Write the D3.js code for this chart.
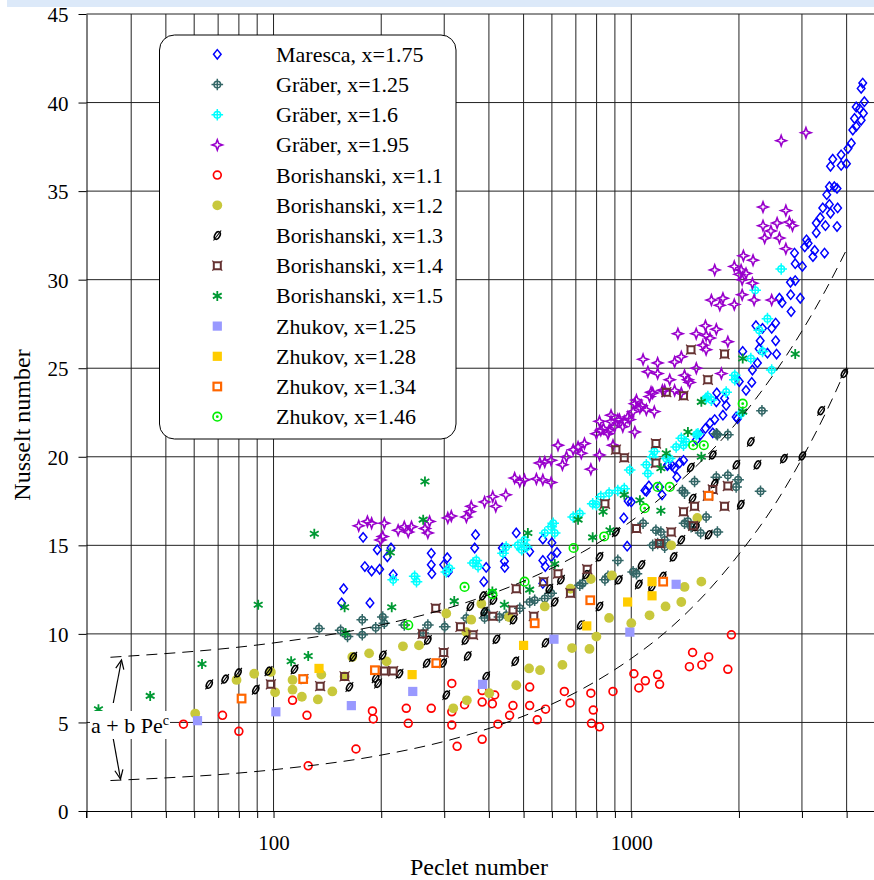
<!DOCTYPE html>
<html><head><meta charset="utf-8">
<script src="https://cdn.jsdelivr.net/npm/d3@7"></script>
<style>
html,body{margin:0;padding:0;background:#fff;}
svg{display:block;font-family:"Liberation Serif","Times New Roman",serif;}
</style></head>
<body><svg id="c" width="874" height="880"></svg>
<script>
// ---------- data (Pe, Nu) ----------
const maresca = [[178,15.45],[180,13.8],[188,13.55],[157,12.55],[155,11.75],[186,11.75],[195,14.75],[208,14.35],[213,14.85],[198,13.65],[216,13.35],[276,14.55],[306,14.3],[367,15.6],[477,15.7],[365,14.85],[276,13.9],[277,13.4],[299,13.9],[308,13.5],[393,13.75],[387,12.95],[442,14.1],[443,13.75],[436,14.85],[520,14.65],[566,15.35],[600,15.15],[566,14.15],[597,14.35],[620,14.6],[575,13.8],[566,12.85],[953,16.55],[974,14.95],[1092,18.1],[1219,17.85],[1262,19.5],[980,17.5],[1734,23.6],[1729,23.1],[1711,22.1],[1660,21.9],[1612,21.6],[1563,21.25],[1520,20.95],[1400,19.8],[1366,19.65],[1300,19.5],[1341,18.85],[1200,18.3],[1120,18.35],[1102,18.05],[1000,17.45],[1842,22.9],[1804,22.35],[1690,21.35],[1982,22.15],[1322,19.35],[1265,19.55],
[4437,41.1],[4392,40.8],[4484,40.05],[4254,39.75],[4345,39.65],[4456,39.4],[4208,39.1],[4392,39.0],[4162,38.45],[4254,38.65],[4034,37.4],[4122,37.7],[3861,37.05],[3658,36.8],[3605,36.4],[3996,36.55],[3861,36.45],[3580,35.25],[3695,35.25],[3760,35.15],[3520,34.8],[3580,34.25],[3430,34.05],[3605,33.75],[3775,34.05],[3375,33.5],[3290,33.2],[3490,33.05],[3760,33.0],[3290,32.65],[3090,32.25],[3122,32.05],[3055,31.85],[3256,31.65],[3220,31.3],[3470,31.5],[2860,31.5],[2873,30.9],[3008,30.75],[2786,29.85],[2873,29.95],[2595,28.95],[2640,28.7],[2790,29.15],[2968,28.95],[2798,28.2],[2231,27.4],[2328,27.25],[2469,27.25],[2533,27.55],[2293,26.55],[2533,26.55],[2278,26.1],[2403,25.85],[2548,25.8],[2049,25.95],[2253,25.3],[2181,24.9],[2004,24.25],[2172,24.2],[2093,23.75],[1823,23.3],[1964,22.25]];

const graber125 = [[134,10.3],[154,10.2],[161,9.85],[177,10.8],[177,9.95],[193,10.35],[202,10.95],[204,10.6],[232,10.5],[262,10.05],[270,10.5],[301,10.4],[346,10.9],[389,10.9],[394,11.2],[428,10.95],[447,11.05],[488,11.45],[520,11.8],[537,11.9],[573,12.0],[597,12.3],[718,12.75],[731,12.85],[844,13.05],[861,13.25],[917,14.15],[1012,13.5],[1034,13.4],[1079,16.25],[1148,15.0],[1185,15.1],[1240,14.9],[1172,15.85],[1210,15.75],[1729,21.3],[1503,18.6],[1409,17.95],[1729,18.85],[1619,16.6],[1440,16.35],[2319,22.6],[1862,21.25],[1741,21.25],[1390,18.1],[1862,18.95],[1989,18.7],[1964,18.3],[2298,18.05],[1409,16.25],[1470,16.05],[1563,15.7],[1741,15.75],[1240,15.3]];

const graber16 = [[216,13.05],[248,13.25],[251,12.95],[304,13.5],[310,13.7],[361,14.0],[369,14.15],[373,13.8],[438,14.55],[447,14.9],[482,15.0],[494,14.75],[503,15.3],[510,14.9],[573,15.7],[597,16.05],[611,15.7],[605,16.25],[688,16.6],[718,16.8],[780,17.35],[799,17.3],[822,17.75],[867,17.95],[917,18.1],[956,18.2],[990,19.25],[1102,19.55],[1113,19.05],[1148,20.0],[1160,20.3],[1253,19.9],[1637,23.4],[1675,23.2],[1520,21.25],[1423,20.85],[1400,20.65],[1335,20.55],[2625,30.6],[2220,29.4],[2403,27.8],[2278,27.15],[2328,25.95],[2159,25.55],[2469,24.9],[1947,24.6],[1947,24.35],[1842,23.65],[1619,23.3],[2028,22.45],[1536,21.3],[1380,21.05],[1281,19.9]];

const graber195 = [[173,16.1],[183,16.35],[188,16.25],[204,16.25],[202,15.5],[199,15.3],[223,15.85],[232,16.05],[238,15.75],[243,16.05],[265,15.95],[270,15.7],[273,16.35],[307,16.55],[314,16.65],[346,16.6],[354,16.9],[357,17.2],[389,17.45],[410,17.75],[418,17.2],[446,17.85],[472,18.8],[488,18.6],[503,18.7],[543,18.75],[566,18.7],[597,18.55],[555,19.65],[573,19.7],[597,19.8],[642,19.55],[624,20.65],[659,20.0],[688,20.4],[710,20.55],[725,20.2],[740,20.75],[771,19.3],[815,20.1],[799,21.3],[836,21.6],[815,22.0],[861,21.3],[878,22.0],[898,21.7],[917,22.1],[956,22.0],[978,22.25],[889,20.65],[1023,21.4],[1023,23.0],[1057,22.75],[1102,22.65],[1160,22.55],[1125,23.4],[1148,23.6],[1240,23.75],[1350,26.95],[1519,26.95],[1619,26.85],[1585,26.3],[1619,26.05],[1380,25.65],[1322,25.35],[1079,25.5],[1185,25.3],[1113,24.8],[1185,24.7],[1409,24.6],[1440,24.35],[1281,24.35],[1520,25.0],[1322,23.75],[1136,23.65],[1034,23.2],[1012,22.55],[878,22.35],[990,22.1],[927,22.1],[947,21.7],[867,21.5],[822,21.5],
[3078,38.3],[2625,37.85],[2335,34.1],[2705,33.9],[2557,33.2],[2767,33.25],[2823,33.05],[2335,33.05],[2457,32.75],[2360,32.35],[2595,32.35],[2705,31.75],[2058,31.35],[2190,31.1],[1941,30.75],[1711,30.55],[2028,30.55],[2006,30.3],[2093,30.35],[2042,30.0],[2181,29.8],[2042,29.15],[2205,28.85],[2469,28.85],[1675,28.85],[1804,28.95],[1768,28.55],[1941,28.6],[1612,27.4],[1729,27.2],[1660,26.7],[1862,26.5],[1786,24.7],[1456,24.2],[1222,23.75],[1380,23.6],[1068,22.9]];

const borish11 = [[56,4.9],[72,5.4],[80,4.5],[113,6.25],[124,5.4],[125,2.55],[170,3.5],[189,5.65],[190,5.2],[235,5.8],[238,4.95],[276,5.8],[315,7.2],[315,5.6],[315,4.85],[326,3.65],[342,6.0],[383,6.8],[383,6.15],[383,4.05],[409,6.05],[415,6.55],[424,4.9],[457,5.4],[467,5.95],[520,7.0],[520,5.95],[546,5.15],[576,5.75],[650,6.75],[675,6.1],[771,6.65],[783,5.7],[774,4.95],[815,4.75],[889,6.75],[1017,7.75],[1050,6.95],[1095,7.35],[1185,7.7],[1200,7.15],[1905,9.95],[1484,8.95],[1646,8.7],[1454,8.15],[1575,8.25],[1862,8.0]];

const borish12 = [[60.4,5.5],[78.8,7.4],[88.3,7.75],[98.3,7.85],[101,6.7],[113,7.4],[113,6.85],[120,6.45],[133,6.3],[136,7.7],[146,6.75],[158,7.6],[166,8.7],[185,8.9],[207,8.45],[230,9.3],[255,9.35],[304,11.15],[346,10.1],[357,10.8],[381,11.7],[318,5.8],[347,6.25],[401,6.65],[455,10.95],[477,7.1],[518,8.05],[556,7.95],[573,11.55],[642,8.25],[683,9.2],[676,12.55],[771,13.1],[764,9.15],[799,9.85],[867,10.9],[883,13.3],[1000,10.6],[1125,11.05],[1247,11.55],[1530,16.55],[1293,15.0],[1380,11.8],[1409,12.65],[1570,12.95]];

const borish13 = [[66.1,7.15],[73.2,7.45],[79.6,7.8],[89.2,6.85],[96.8,7.9],[114.5,8.0],[122,7.45],[163,7.0],[167,8.7],[193,7.5],[196,7.2],[202,8.8],[225,7.75],[268,8.35],[270,9.65],[298,8.35],[304,6.55],[344,9.65],[349,8.75],[355,11.55],[385,12.15],[388,11.25],[412,11.9],[420,9.7],[393,7.6],[469,10.8],[474,8.45],[576,9.5],[590,12.55],[611,11.8],[636,13.05],[722,10.5],[748,13.35],[815,11.55],[815,14.35],[906,15.75],[923,13.05],[1050,12.8],[1068,13.9],[1143,12.65],[1224,13.25],[1690,20.1],[1467,19.4],[1484,17.65],[1711,18.5],[3396,22.6],[2159,20.85],[1967,19.55],[2253,19.55],[2672,19.9],[3008,20.05],[2024,17.3],[1516,16.05],[1646,15.6],[1380,15.3],[1313,14.35],[3941,24.7]];

const borish14 = [[98.3,7.15],[135,7.05],[158,7.6],[204,7.9],[216,7.9],[284,11.45],[299,8.95],[261,10.0],[333,10.4],[361,9.95],[410,11.0],[467,11.35],[477,12.55],[534,11.0],[569,12.95],[624,13.4],[676,12.3],[753,13.65],[844,17.35],[906,20.4],[956,19.95],[1034,15.95],[1172,20.75],[1172,19.65],[1200,15.1],[1469,26.05],[1823,25.8],[1637,24.35],[1253,23.65],[1400,23.45],[1503,17.2],[1400,16.9],[1690,18.15],[1862,18.35],[1637,17.8],[1823,17.2],[1490,16.1],[1293,15.75]];

const borish15 = [[32.4,5.75],[45.2,6.5],[63.1,8.3],[90.6,11.65],[112,8.45],[125,8.75],[130,15.65],[158,11.5],[159,10.05],[265,18.6],[262,16.45],[212,14.6],[214,11.5],[320,11.85],[409,12.4],[442,11.65],[514,15.7],[520,12.5],[611,13.95],[710,16.45],[780,15.45],[834,16.9],[872,15.85],[956,17.85],[1057,17.55],[1210,19.35],[1210,16.95],[1253,20.2],[1570,23.1],[1440,21.4],[1570,20.0],[2049,22.55],[2873,25.8],[2049,25.55]];

const zhukov125 = [[61.3,5.1],[101.5,5.6],[165,5.95],[245,6.75],[384,7.15],[608,9.7],[991,10.1],[1335,12.8]];
const zhukov128 = [[134,8.05],[244,7.7],[500,9.35],[751,10.45],[977,11.8],[1143,12.95],[1143,12.15]];
const zhukov134 = [[81.4,6.35],[121,7.45],[192,7.95],[285,8.35],[537,10.6],[768,11.9],[1228,12.95],[1646,17.8]];
const zhukov146 = [[342,12.65],[238,10.5],[409,12.25],[503,12.95],[690,14.85],[840,15.5],[1090,17.1],[1185,18.3],[1281,18.3],[1490,20.65],[1595,20.65],[2049,23.0]];

// fitted envelope curves a + b Pe^c
const curvePe    = [35,100,193,331,500,731,1000,1280,1600,2000,2500,3000,3500,4000];
const upperCurve = [8.68,9.49,10.44,11.65,12.98,14.62,16.37,18.1,19.92,22.08,24.65,27.1,29.44,31.7];
const lowerCurve = [1.72,2.33,3.1,4.16,5.36,6.9,8.61,10.3,12.2,14.5,17.2,19.9,22.5,25.05];

const xTicks = [30,40,50,60,70,80,90,100,200,300,400,500,600,700,800,900,1000,2000,3000,4000];
const xTickLabels = {100:"100",1000:"1000"};
const yTicks = [0,5,10,15,20,25,30,35,40,45];

const seriesNames = ["Maresca, x=1.75","Gräber, x=1.25","Gräber, x=1.6","Gräber, x=1.95","Borishanski, x=1.1","Borishanski, x=1.2","Borishanski, x=1.3","Borishanski, x=1.4","Borishanski, x=1.5","Zhukov, x=1.25","Zhukov, x=1.28","Zhukov, x=1.34","Zhukov, x=1.46"];
const seriesData = [maresca,graber125,graber16,graber195,borish11,borish12,borish13,borish14,borish15,zhukov125,zhukov128,zhukov134,zhukov146];
const seriesKind = ["diamond","cross","cross","sparkle","ocircle","fcircle","oslash","nsquare","asterisk","fsquare","fsquare","osquare","dcircle"];
const seriesColor = ["#0000ff","#336666","#00ffff","#9900cc","#ff0000","#c8c83c","#000000","#663333","#009933","#9999ff","#ffcc00","#ff6600","#00ee00"];

// ---------- drawing ----------
const svg = d3.select("#c");
const x = d3.scaleLog().domain([30,5000]).range([86.5,881.3]);
const y = d3.scaleLinear().domain([0,45]).range([811,14]);

svg.append("rect").attr("x",7).attr("y",0).attr("width",867).attr("height",7).attr("fill","#dce9f9");

// grid
const grid = svg.append("g");
grid.selectAll("line.v").data(xTicks.filter(d=>d>30)).join("line")
  .attr("x1",d=>x(d)).attr("x2",d=>x(d)).attr("y1",y(45)).attr("y2",y(0))
  .attr("stroke","#222").attr("stroke-width",1);
grid.selectAll("line.h").data(yTicks.filter(d=>d>0)).join("line")
  .attr("x1",x(30)).attr("x2",874).attr("y1",d=>y(d)).attr("y2",d=>y(d))
  .attr("stroke","#222").attr("stroke-width",1);

// axes
const xAxis = d3.axisBottom(x).tickValues(xTicks).tickSize(7).tickSizeOuter(0).tickPadding(17)
  .tickFormat(d=>xTickLabels[d]||"");
const gx = svg.append("g").attr("transform",`translate(0,${y(0)})`).call(xAxis);
const yAxis = d3.axisLeft(y).tickValues(yTicks).tickSize(8).tickSizeOuter(0).tickPadding(10);
const gy = svg.append("g").attr("transform",`translate(${x(30)},0)`).call(yAxis);
[gx,gy].forEach(g=>{
  g.selectAll("path.domain").attr("stroke","#000");
  g.selectAll("line").attr("stroke","#000");
  g.selectAll("text").attr("font-family","Liberation Serif, Times New Roman, serif").attr("font-size",21).attr("fill","#000");
});
gy.selectAll("text").attr("dy","0.36em");
svg.append("line").attr("x1",x(30)).attr("x2",x(30)).attr("y1",y(0)).attr("y2",y(0)+7).attr("stroke","#000");

// axis titles
svg.append("text").attr("x",479).attr("y",875).attr("text-anchor","middle").attr("font-size",24).text("Peclet number");
svg.append("text").attr("transform","translate(30,425) rotate(-90)").attr("text-anchor","middle").attr("font-size",24).text("Nusselt number");

// markers
function marker(g, kind, color){
  switch(kind){
    case "diamond":
      g.append("path").attr("d","M0,-4.7L3.8,0L0,4.7L-3.8,0Z").attr("fill","none").attr("stroke",color).attr("stroke-width",1.5); break;
    case "cross":
      g.append("circle").attr("r",3.3).attr("fill","none").attr("stroke",color).attr("stroke-width",1.5);
      g.append("path").attr("d","M-5.8,0H5.8M0,-5.8V5.8").attr("stroke",color).attr("stroke-width",1.5); break;
    case "sparkle":
      g.append("path").attr("d","M0,-5.2L1.4,-1.4L5.2,0L1.4,1.4L0,5.2L-1.4,1.4L-5.2,0L-1.4,-1.4Z").attr("fill","none").attr("stroke",color).attr("stroke-width",1.6); break;
    case "ocircle":
      g.append("circle").attr("r",3.9).attr("fill","none").attr("stroke",color).attr("stroke-width",1.7); break;
    case "fcircle":
      g.append("circle").attr("r",4.9).attr("fill",color); break;
    case "oslash":
      g.append("ellipse").attr("rx",2.5).attr("ry",4.1).attr("transform","rotate(28)").attr("fill","none").attr("stroke",color).attr("stroke-width",1.6);
      g.append("path").attr("d","M-3.8,5L3.8,-5").attr("stroke",color).attr("stroke-width",1.1); break;
    case "nsquare":
      g.append("path").attr("d","M-3.5,-3.5H3.5V3.5H-3.5Z").attr("fill","none").attr("stroke",color).attr("stroke-width",2);
      g.append("path").attr("d","M-5,-5L-3,-3M5,-5L3,-3M-5,5L-3,3M5,5L3,3").attr("stroke",color).attr("stroke-width",1.2); break;
    case "asterisk":
      g.append("path").attr("d","M0,-5V5M-4.4,-2.5L4.4,2.5M-4.4,2.5L4.4,-2.5").attr("stroke",color).attr("stroke-width",1.8); break;
    case "fsquare":
      g.append("rect").attr("x",-4.6).attr("y",-4.6).attr("width",9.2).attr("height",9.2).attr("fill",color); break;
    case "osquare":
      g.append("rect").attr("x",-3.8).attr("y",-3.8).attr("width",7.6).attr("height",7.6).attr("fill","#fff").attr("stroke",color).attr("stroke-width",2.2); break;
    case "dcircle":
      g.append("circle").attr("r",4.3).attr("fill","none").attr("stroke",color).attr("stroke-width",1.6);
      g.append("circle").attr("r",1.4).attr("fill",color); break;
  }
}

const pts = svg.append("g");
seriesData.forEach((data,i)=>{
  const gs = pts.append("g");
  gs.selectAll("g").data(data).join("g")
    .attr("transform",d=>`translate(${x(d[0])},${y(d[1])})`)
    .each(function(){ marker(d3.select(this), seriesKind[i], seriesColor[i]); });
});

// dashed envelope curves
const line = d3.line().x(d=>x(d[0])).y(d=>y(d[1])).curve(d3.curveMonotoneX);
[upperCurve, lowerCurve].forEach(c=>{
  svg.append("path").attr("d", line(curvePe.map((p,i)=>[p,c[i]])))
    .attr("fill","none").attr("stroke","#000").attr("stroke-width",1).attr("stroke-dasharray","11,7");
});

// formula label with arrows
svg.append("rect").attr("x",90).attr("y",711).attr("width",80).attr("height",28).attr("fill","#fff");
const lab = svg.append("text").attr("x",91).attr("y",733).attr("font-size",22);
lab.append("tspan").text("a + b Pe");
lab.append("tspan").attr("dy",-8).attr("font-size",14).text("c");
function arrow(x1,y1,x2,y2){
  svg.append("line").attr("x1",x1).attr("y1",y1).attr("x2",x2).attr("y2",y2).attr("stroke","#000").attr("stroke-width",1.2);
  const a = Math.atan2(y1-y2,x1-x2), L=10, s=0.42;
  const p = [[x2+L*Math.cos(a+s),y2+L*Math.sin(a+s)],[x2,y2],[x2+L*Math.cos(a-s),y2+L*Math.sin(a-s)]];
  svg.append("path").attr("d",d3.line()(p)).attr("fill","none").attr("stroke","#000").attr("stroke-width",1.2);
}
arrow(113.3,703,121.5,660);
arrow(113.3,739,120.5,779);

// legend
const leg = svg.append("g");
leg.append("rect").attr("x",159.5).attr("y",35).attr("width",296.5).attr("height",404).attr("rx",15).attr("ry",15)
  .attr("fill","#fff").attr("stroke","#000").attr("stroke-width",1);
seriesNames.forEach((n,i)=>{
  const cy = 54.3 + 30.2*i;
  const g = leg.append("g").attr("transform",`translate(217.3,${cy})`);
  marker(g, seriesKind[i], seriesColor[i]);
  leg.append("text").attr("x",276).attr("y",cy+7.5).attr("font-size",22).text(n);
});
</script></body></html>
